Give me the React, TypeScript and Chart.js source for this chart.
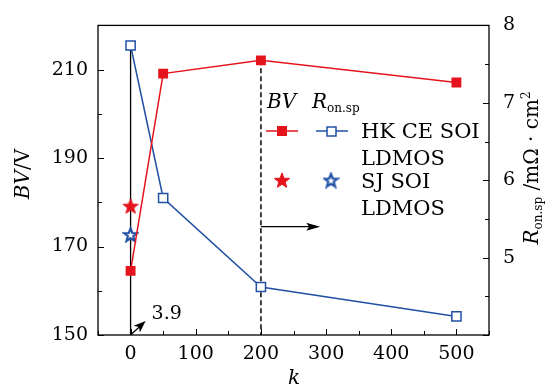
import React, { useEffect, useRef } from 'react';
import { Chart, registerables } from 'chart.js';

Chart.register(...registerables);

// ---- data ----
const kValues = [0, 50, 200, 500];
const bvHK = [164.5, 209.1, 212.1, 207.1];
const ronHK = [7.74, 5.77, 4.62, 4.24];
const kSJ = [0];
const bvSJ = [179.2];
const ronSJ = [5.3];
const xTickLabels = [0, 100, 200, 300, 400, 500];
const bvTickLabels = [150, 170, 190, 210];
const ronTickLabels = [5, 6, 7, 8];
const bvAnnot = '3.9';

const RED = '#e5141c';
const BLUE = '#2150a4';
const FAM = '"DejaVu Serif", "Liberation Serif", "Times New Roman", serif';
const SX = 1.0;

function makeStar(fill: string | null, stroke: string, size: number, lw: number) {
  const c = document.createElement('canvas');
  c.width = size;
  c.height = size;
  const ctx = c.getContext('2d')!;
  const cx = size / 2;
  const cy = size / 2 + size * 0.05;
  const R = size / 2 - lw / 2 - 0.5;
  const r = R * 0.42;
  ctx.beginPath();
  for (let i = 0; i < 10; i++) {
    const a = -Math.PI / 2 + (i * Math.PI) / 5;
    const rad = i % 2 === 0 ? R : r;
    ctx.lineTo(cx + rad * Math.cos(a), cy + rad * Math.sin(a));
  }
  ctx.closePath();
  if (fill) {
    ctx.fillStyle = fill;
    ctx.fill();
  }
  ctx.lineJoin = 'miter';
  ctx.lineWidth = lw;
  ctx.strokeStyle = stroke;
  ctx.stroke();
  return c;
}

type Run = { t: string; f: string; dy?: number };

function drawRuns(ctx: CanvasRenderingContext2D, runs: Run[], x: number, y: number, align: 'left' | 'center' = 'left') {
  let total = 0;
  runs.forEach((r) => {
    ctx.font = r.f;
    total += ctx.measureText(r.t).width * SX;
  });
  let cx = align === 'center' ? x - total / 2 : x;
  ctx.textBaseline = 'alphabetic';
  ctx.textAlign = 'left';
  runs.forEach((r) => {
    ctx.font = r.f;
    const w = ctx.measureText(r.t).width * SX;
    ctx.save();
    ctx.translate(cx, y + (r.dy || 0));
    ctx.scale(SX, 1);
    ctx.fillText(r.t, 0, 0);
    ctx.restore();
    cx += w;
  });
}

const it = (s: number) => `italic ${s}px ${FAM}`;
const rm = (s: number) => `${s}px ${FAM}`;

export default function App() {
  const ref = useRef<HTMLCanvasElement | null>(null);

  useEffect(() => {
    if (!ref.current) return;
    const redStar = makeStar(RED, RED, 18, 1);
    const blueStar = makeStar('#ffffff', BLUE, 17, 2.2);

    const annot = {
      id: 'annot',
      beforeDatasetsDraw(chart: any) {
        const ctx: CanvasRenderingContext2D = chart.ctx;
        const xs = chart.scales.x;
        const ys = chart.scales.y;
        const y1 = chart.scales.y1;
        const a = chart.chartArea;
        ctx.save();
        ctx.strokeStyle = '#000';
        ctx.lineWidth = 1.3;
        ctx.beginPath();
        ctx.moveTo(xs.getPixelForValue(0), y1.getPixelForValue(ronHK[0]));
        ctx.lineTo(xs.getPixelForValue(0), a.bottom);
        ctx.stroke();
        ctx.setLineDash([5, 3]);
        ctx.lineWidth = 1.5;
        ctx.beginPath();
        ctx.moveTo(xs.getPixelForValue(200), ys.getPixelForValue(bvHK[2]));
        ctx.lineTo(xs.getPixelForValue(200), a.bottom);
        ctx.stroke();
        ctx.setLineDash([]);
        const ay = ys.getPixelForValue(174.5);
        const ax0 = xs.getPixelForValue(200);
        const ax1 = xs.getPixelForValue(291);
        ctx.lineWidth = 1.3;
        ctx.beginPath();
        ctx.moveTo(ax0, ay);
        ctx.lineTo(ax1 - 10, ay);
        ctx.stroke();
        ctx.fillStyle = '#000';
        ctx.beginPath();
        ctx.moveTo(ax1, ay);
        ctx.lineTo(ax1 - 14, ay - 4);
        ctx.lineTo(ax1 - 11, ay);
        ctx.lineTo(ax1 - 14, ay + 4);
        ctx.closePath();
        ctx.fill();
        const ox = xs.getPixelForValue(0) + 1;
        const oy = ys.getPixelForValue(150) - 1;
        const ex = ox + 14;
        const ey = oy - 13;
        ctx.beginPath();
        ctx.moveTo(ox, oy);
        ctx.lineTo(ex - 4, ey + 4);
        ctx.stroke();
        ctx.save();
        ctx.translate(ex, ey);
        ctx.rotate(Math.atan2(ey - oy, ex - ox));
        ctx.beginPath();
        ctx.moveTo(0, 0);
        ctx.lineTo(-12, -4.5);
        ctx.lineTo(-9, 0);
        ctx.lineTo(-12, 4.5);
        ctx.closePath();
        ctx.fill();
        ctx.restore();
        ctx.restore();
      },
      afterDraw(chart: any) {
        const ctx: CanvasRenderingContext2D = chart.ctx;
        const xs = chart.scales.x;
        const ys = chart.scales.y;
        const y1 = chart.scales.y1;
        const a = chart.chartArea;
        ctx.save();
        ctx.strokeStyle = '#000';
        ctx.fillStyle = '#000';
        ctx.lineWidth = 1.3;
        ctx.strokeRect(a.left, a.top, a.right - a.left, a.bottom - a.top);
        ctx.lineWidth = 1;
        ctx.beginPath();
        for (let v = -50; v <= 550; v += 50) {
          const p = Math.round(xs.getPixelForValue(v)) + 0.5;
          const len = v % 100 === 0 ? 6 : 4;
          ctx.moveTo(p, a.bottom);
          ctx.lineTo(p, a.bottom - len);
        }
        for (let v = 150; v <= 220; v += 10) {
          const p = Math.round(ys.getPixelForValue(v)) + 0.5;
          const len = v % 20 === 10 ? 6 : 4;
          ctx.moveTo(a.left, p);
          ctx.lineTo(a.left + len, p);
        }
        for (let v = 4; v <= 8; v += 0.5) {
          const p = Math.round(y1.getPixelForValue(v)) + 0.5;
          const len = v % 1 === 0 ? 6 : 4;
          ctx.moveTo(a.right, p);
          ctx.lineTo(a.right - len, p);
        }
        ctx.stroke();

        drawRuns(ctx, [{ t: bvAnnot, f: rm(19) }], xs.getPixelForValue(0) + 21, ys.getPixelForValue(150) - 16);

        drawRuns(ctx, [{ t: 'BV', f: it(20) }], 267, 108);
        drawRuns(ctx, [{ t: 'R', f: it(20) }, { t: 'on.sp', f: rm(12), dy: 4 }], 312, 108);
        ctx.lineWidth = 1.5;
        ctx.strokeStyle = RED;
        ctx.beginPath();
        ctx.moveTo(266, 131);
        ctx.lineTo(298, 131);
        ctx.stroke();
        ctx.fillStyle = RED;
        ctx.fillRect(277, 126, 10, 10);
        ctx.strokeStyle = BLUE;
        ctx.beginPath();
        ctx.moveTo(316, 131);
        ctx.lineTo(348, 131);
        ctx.stroke();
        ctx.fillStyle = '#fff';
        ctx.fillRect(327, 127, 9, 9);
        ctx.strokeRect(327, 127, 9, 9);
        ctx.fillStyle = '#000';
        drawRuns(ctx, [{ t: 'HK CE SOI', f: rm(21) }], 361, 138);
        drawRuns(ctx, [{ t: 'LDMOS', f: rm(21) }], 361, 165);
        ctx.drawImage(redStar, 282 - 9, 180 - 9);
        ctx.drawImage(blueStar, 331 - 8.5, 180 - 8.5);
        drawRuns(ctx, [{ t: 'SJ SOI', f: rm(21) }], 361, 188);
        drawRuns(ctx, [{ t: 'LDMOS', f: rm(21) }], 361, 215);

        ctx.fillStyle = '#000';
        drawRuns(ctx, [{ t: 'k', f: it(20) }], 294, 384, 'center');
        ctx.save();
        ctx.translate(29, 174);
        ctx.rotate(-Math.PI / 2);
        drawRuns(ctx, [{ t: 'BV', f: it(20) }, { t: '/V', f: rm(20) }], 0, 0, 'center');
        ctx.restore();
        ctx.save();
        ctx.translate(538, 168);
        ctx.rotate(-Math.PI / 2);
        drawRuns(
          ctx,
          [
            { t: 'R', f: it(20) },
            { t: 'on.sp', f: rm(12), dy: 4 },
            { t: ' /m\u03A9 \u00B7 cm', f: rm(20) },
            { t: '2', f: rm(12), dy: -8 },
          ],
          0,
          0,
          'center'
        );
        ctx.restore();
        ctx.restore();
      },
    };

    const tickFont = { family: FAM, size: 19 };
    const chart = new Chart(ref.current, {
      type: 'line',
      data: {
        datasets: [
          {
            label: 'BV HK CE SOI LDMOS',
            data: kValues.map((k, i) => ({ x: k, y: bvHK[i] })),
            yAxisID: 'y',
            borderColor: RED,
            backgroundColor: RED,
            borderWidth: 1.5,
            pointStyle: 'rect',
            pointRadius: 7,
            pointBorderWidth: 0,
            pointBackgroundColor: RED,
            tension: 0,
          },
          {
            label: 'Ron HK CE SOI LDMOS',
            data: kValues.map((k, i) => ({ x: k, y: ronHK[i] })),
            yAxisID: 'y1',
            borderColor: BLUE,
            backgroundColor: '#fff',
            borderWidth: 1.5,
            pointStyle: 'rect',
            pointRadius: 6.5,
            pointBorderWidth: 1.5,
            pointBackgroundColor: '#fff',
            pointBorderColor: BLUE,
            tension: 0,
          },
          {
            label: 'BV SJ SOI LDMOS',
            data: kSJ.map((k, i) => ({ x: k, y: bvSJ[i] })),
            yAxisID: 'y',
            showLine: false,
            pointStyle: redStar as any,
          },
          {
            label: 'Ron SJ SOI LDMOS',
            data: kSJ.map((k, i) => ({ x: k, y: ronSJ[i] })),
            yAxisID: 'y1',
            showLine: false,
            pointStyle: blueStar as any,
          },
        ],
      },
      options: {
        animation: false,
        responsive: false,
        devicePixelRatio: 1,
        layout: { padding: { top: 18, left: 0, right: 0, bottom: 0 } },
        plugins: { legend: { display: false }, tooltip: { enabled: false } },
        scales: {
          x: {
            type: 'linear',
            min: -50,
            max: 550,
            grid: { display: false, drawTicks: false },
            border: { display: false },
            ticks: {
              stepSize: 50,
              autoSkip: false,
              maxRotation: 0,
              padding: 8,
              color: '#000',
              font: tickFont,
              callback: (v: any) => (xTickLabels.includes(v) ? String(v) : ''),
            },
            afterFit: (s: any) => {
              s.height = 54;
            },
          },
          y: {
            type: 'linear',
            position: 'left',
            min: 150,
            max: 220,
            grid: { display: false, drawTicks: false },
            border: { display: false },
            ticks: {
              stepSize: 10,
              autoSkip: false,
              padding: 10,
              color: '#000',
              font: tickFont,
              callback: (v: any) => (bvTickLabels.includes(v) ? String(v) : ''),
            },
            afterFit: (s: any) => {
              s.width = 98;
            },
          },
          y1: {
            type: 'linear',
            position: 'right',
            min: 4,
            max: 8,
            grid: { display: false, drawTicks: false },
            border: { display: false },
            ticks: {
              stepSize: 0.5,
              autoSkip: false,
              padding: 14,
              color: '#000',
              font: tickFont,
              callback: (v: any) => (ronTickLabels.includes(v) ? String(v) : ''),
            },
            afterFit: (s: any) => {
              s.width = 58;
            },
          },
        },
      },
      plugins: [annot],
    });
    return () => chart.destroy();
  }, []);

  return (
    <div style={{ position: 'absolute', left: 0, top: 0, width: 547, height: 389, background: '#fff' }}>
      <canvas ref={ref} width={547} height={389} style={{ display: 'block' }} />
    </div>
  );
}
